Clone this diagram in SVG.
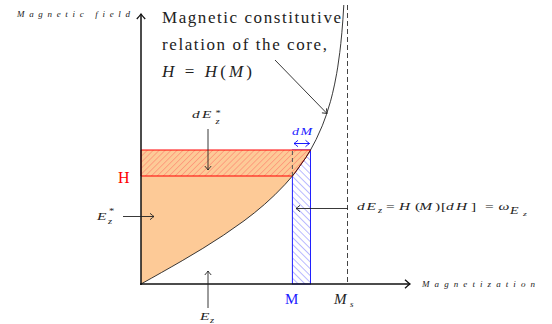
<svg xmlns="http://www.w3.org/2000/svg" width="552" height="324" viewBox="0 0 552 324" font-family="'Liberation Serif','DejaVu Serif',serif">
<style>
text{font-family:'Liberation Serif','DejaVu Serif',serif;fill:#222}
.it{font-style:italic}
.up{font-style:normal}
.ln{fill:none;stroke:#222;stroke-width:0.9}
.ax{fill:none;stroke:#111;stroke-width:1.5}
.m{font-style:italic;font-size:11px}
.s{font-size:7.5px}
</style>
<defs>
<marker id="tip" markerUnits="userSpaceOnUse" viewBox="-6 -5 8 10" markerWidth="8" markerHeight="10" refX="0" refY="0" orient="auto-start-reverse">
<path d="M-4,-3.2 Q-1.2,-0.8 0,0 Q-1.2,0.8 -4,3.2" fill="none" stroke="#222" stroke-width="0.9"/>
</marker>
<marker id="tipb" markerUnits="userSpaceOnUse" viewBox="-6 -5 8 10" markerWidth="8" markerHeight="10" refX="0" refY="0" orient="auto-start-reverse">
<path d="M-4,-3.2 Q-1.2,-0.8 0,0 Q-1.2,0.8 -4,3.2" fill="none" stroke="#0000ff" stroke-width="0.9"/>
</marker>
<marker id="axtip" markerUnits="userSpaceOnUse" viewBox="-7 -6 9 12" markerWidth="9" markerHeight="12" refX="0" refY="0" orient="auto">
<path d="M-5,-4.2 Q-1.5,-1 0,0 Q-1.5,1 -5,4.2" fill="none" stroke="#111" stroke-width="1.3"/>
</marker>
<pattern id="redhatch" patternUnits="userSpaceOnUse" width="4.2" height="4.2" patternTransform="rotate(45)">
<line x1="0" y1="0" x2="0" y2="4.2" stroke="#ff5050" stroke-width="0.7"/>
</pattern>
<pattern id="bluehatch" patternUnits="userSpaceOnUse" width="4.8" height="4.8" patternTransform="rotate(-45)">
<line x1="0" y1="0" x2="0" y2="4.8" stroke="#3a3aff" stroke-width="0.7"/>
</pattern>
</defs>

<g id="blue-strip">
<rect x="292.4" y="150" width="18.1" height="134" fill="url(#bluehatch)" stroke="#2020ff" stroke-width="1"/>
</g>

<g id="energy-area">
<polygon fill="#fdca97" points="141,284 151.3,278.25 161.6,272.46 171.9,266.62 182.2,260.69 202.8,248.41 223.4,235.28 244,220.83 254.3,212.9 264.6,204.29 274.9,194.8 285.2,184.26 292.4,176 295.5,172.1 305.8,157.66 310.5,150 141,150"/>
</g>

<g id="red-strip">
<polygon points="141,150 310.5,150 305.8,157.66 295.5,172.1 292.4,176 141,176" fill="url(#redhatch)" stroke="#ff0000" stroke-width="1"/>
<line x1="292.4" y1="151" x2="292.4" y2="176" stroke="#555" stroke-width="1" stroke-dasharray="4 3"/>
</g>

<g id="saturation-line">
<line x1="347.5" y1="5" x2="347.5" y2="284" stroke="#444" stroke-width="1" stroke-dasharray="5 3"/>
</g>

<g id="curve">
<polyline class="ln" stroke-width="1" points="141,284 151.3,278.25 161.6,272.46 171.9,266.62 182.2,260.69 202.8,248.41 223.4,235.28 244,220.83 254.3,212.9 264.6,204.29 274.9,194.8 285.2,184.26 292.4,176 295.5,172.1 305.8,157.66 310.5,150 316.1,139.54 322.28,125.8 326.4,114.7 330.52,101.3 332.58,93.28 334.64,84.1 336.7,73.34 337.73,67.1 339.79,52.4 340.82,43.4 341.85,32.76 342.88,19.8 343.81,5"/>
</g>

<g id="axes">
<line class="ax" x1="141" y1="285" x2="141" y2="14" marker-end="url(#axtip)"/>
<line class="ax" x1="140" y1="284" x2="410" y2="284" marker-end="url(#axtip)"/>
<text class="it" x="17" y="17" font-size="9" textLength="113" lengthAdjust="spacing">Magnetic field</text>
<text class="it" x="422" y="287" font-size="9" textLength="113" lengthAdjust="spacing">Magnetization</text>
</g>

<g id="connectors">
<line class="ln" x1="275" y1="60" x2="327" y2="113.5" marker-end="url(#tip)"/>
<line class="ln" x1="208" y1="129" x2="208" y2="170" marker-end="url(#tip)"/>
<line x1="294" y1="143.5" x2="309.5" y2="143.5" stroke="#0000ff" stroke-width="0.9" marker-start="url(#tipb)" marker-end="url(#tipb)"/>
<line class="ln" x1="123" y1="216.5" x2="154" y2="216.5" marker-end="url(#tip)"/>
<line class="ln" x1="348" y1="208.5" x2="296" y2="208.5" marker-end="url(#tip)"/>
<line class="ln" x1="208" y1="308" x2="208" y2="271" marker-end="url(#tip)"/>
</g>

<g id="title">
<text x="162" y="23" font-size="17" textLength="179" lengthAdjust="spacing">Magnetic constitutive</text>
<text x="162" y="50" font-size="17" textLength="165" lengthAdjust="spacing">relation of the core,</text>
<text x="162" y="77" font-size="17" textLength="90" lengthAdjust="spacing"><tspan class="it">H</tspan> = <tspan class="it">H</tspan>(<tspan class="it">M</tspan>)</text>
</g>

<g id="labels">
<text transform="scale(1.4,1)" y="118" class="m"><tspan x="137.1">d</tspan><tspan x="144.3">E</tspan><tspan class="s up" x="153.9" y="116">*</tspan><tspan class="s" x="153.9" y="124">z</tspan></text>

<text transform="scale(1.4,1)" y="135.5" class="m" style="fill:#2020ff;font-size:10px"><tspan x="208.6">d</tspan><tspan x="214.6">M</tspan></text>

<text x="118" y="183" font-size="16" style="fill:#ff0000">H</text>

<text transform="scale(1.4,1)" y="220" class="m"><tspan x="69.3">E</tspan><tspan class="s up" x="77.9" y="214.5">*</tspan><tspan class="s" x="77.1" y="224">z</tspan></text>

<text transform="scale(1.4,1)" y="210" class="m"><tspan x="255">d</tspan><tspan x="261.8">E</tspan><tspan class="s" x="270" y="213">z</tspan><tspan class="up" x="275.7" y="210">=</tspan><tspan x="285">H</tspan><tspan class="up" x="296.4">(</tspan><tspan x="299.5">M</tspan><tspan class="up" x="310.7">)</tspan><tspan class="up" x="315">[</tspan><tspan x="318.6">d</tspan><tspan x="325.7">H</tspan><tspan class="up" x="336.4">]</tspan><tspan class="up" x="346.4">=</tspan><tspan x="356">ω</tspan><tspan x="364.3" y="214.5" style="font-size:10px">E</tspan><tspan class="s" x="373.6" y="216.5" style="font-size:7px">z</tspan></text>

<text transform="scale(1.4,1)" y="320.5" class="m"><tspan x="142.9">E</tspan><tspan class="s" x="150" y="323">z</tspan></text>

<text class="up" x="285" y="304" font-size="15" style="fill:#2020ff">M</text>
<text class="it" x="334" y="304" font-size="15">M</text>
<text class="it" x="350" y="306.5" font-size="9">s</text>
</g>
</svg>
